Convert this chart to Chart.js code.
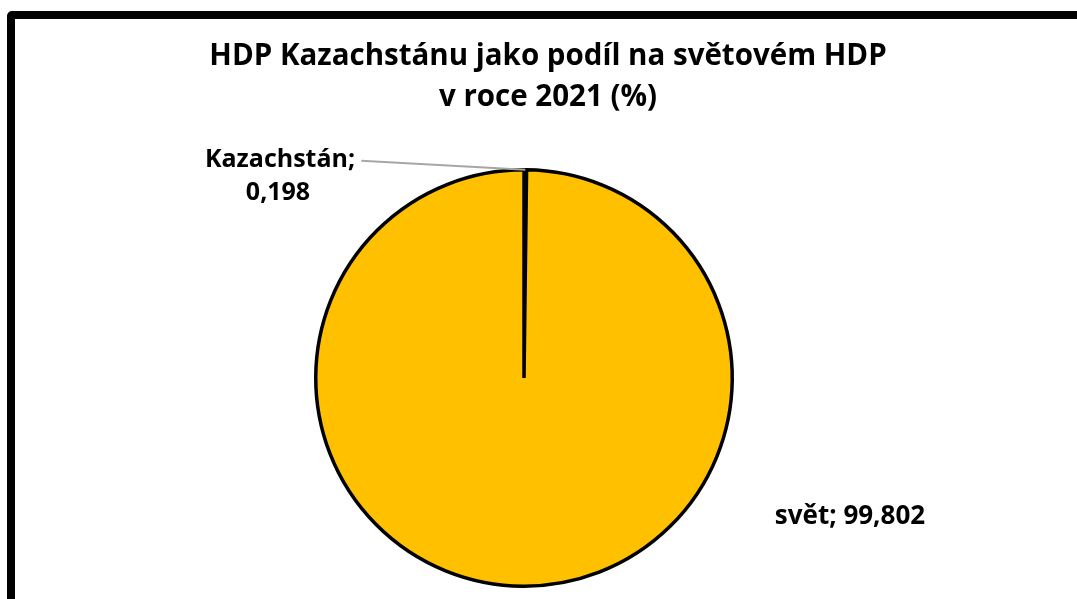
<!DOCTYPE html>
<html>
<head>
<meta charset="utf-8">
<script src="https://cdn.jsdelivr.net/npm/chart.js@4/dist/chart.umd.min.js"></script>
<style>
  html, body { margin: 0; padding: 0; background: #fff; overflow: hidden; }
  #wrap { position: relative; width: 1077px; height: 599px; }
  #frame {
    position: absolute; left: 7px; top: 11px; width: 1100px; height: 700px;
    border: 8px solid #000; border-radius: 5px; box-sizing: border-box;
  }
  canvas { position: absolute; left: 0; top: 0; }
</style>
</head>
<body>
<div id="wrap">
  <div id="frame"></div>
  <canvas id="pieChart" width="1077" height="599"></canvas>
</div>
<script>
const titleLines = ['HDP Kazachstánu jako podíl na světovém HDP', 'v roce 2021 (%)'];
const labels = ['Kazachstán', 'svět'];
const values = [0.198, 99.802];
const valueText = ['0,198', '99,802'];
const colors = ['#FFC000', '#FFC000'];

// title + data labels drawn by hand so they sit where the original has them
const labelPlugin = {
  id: 'pieLabels',
  afterDraw(chart) {
    const ctx = chart.ctx;
    ctx.save();
    ctx.fillStyle = '#000';
    ctx.textAlign = 'center';
    ctx.textBaseline = 'middle';
    ctx.font = 'bold 29.5px "Open Sans"';
    ctx.fillText(titleLines[0], 548, 57);
    ctx.fillText(titleLines[1], 548, 98);

    const arcs = chart.getDatasetMeta(0).data;
    const kz = arcs[0];
    const mid = (kz.startAngle + kz.endAngle) / 2;
    const px = kz.x + kz.outerRadius * Math.cos(mid);
    const py = kz.y + kz.outerRadius * Math.sin(mid);

    // leader line
    ctx.strokeStyle = '#A6A6A6';
    ctx.lineWidth = 2;
    ctx.beginPath();
    ctx.moveTo(px, py);
    ctx.lineTo(px - 164, py - 9);
    ctx.stroke();

    ctx.font = 'bold 25px "Open Sans"';
    ctx.fillText(labels[0] + ';', kz.x - 244, kz.y - 218);
    ctx.fillText(valueText[0], kz.x - 246, kz.y - 185);

    const sv = arcs[1];
    ctx.font = 'bold 26px "Open Sans"';
    ctx.fillText(labels[1] + '; ' + valueText[1], sv.x + 326, sv.y + 139);
    ctx.restore();
  }
};

new Chart(document.getElementById('pieChart'), {
  type: 'pie',
  data: {
    labels: labels,
    datasets: [{
      data: values,
      backgroundColor: colors,
      borderColor: '#000',
      borderWidth: 3.5
    }]
  },
  options: {
    responsive: false,
    animation: false,
    layout: { padding: { top: 168, bottom: 11, left: 0, right: 29 } },
    plugins: {
      legend: { display: false },
      tooltip: { enabled: false },
      title: { display: false }
    }
  },
  plugins: [labelPlugin]
});
</script>
</body>
</html>
